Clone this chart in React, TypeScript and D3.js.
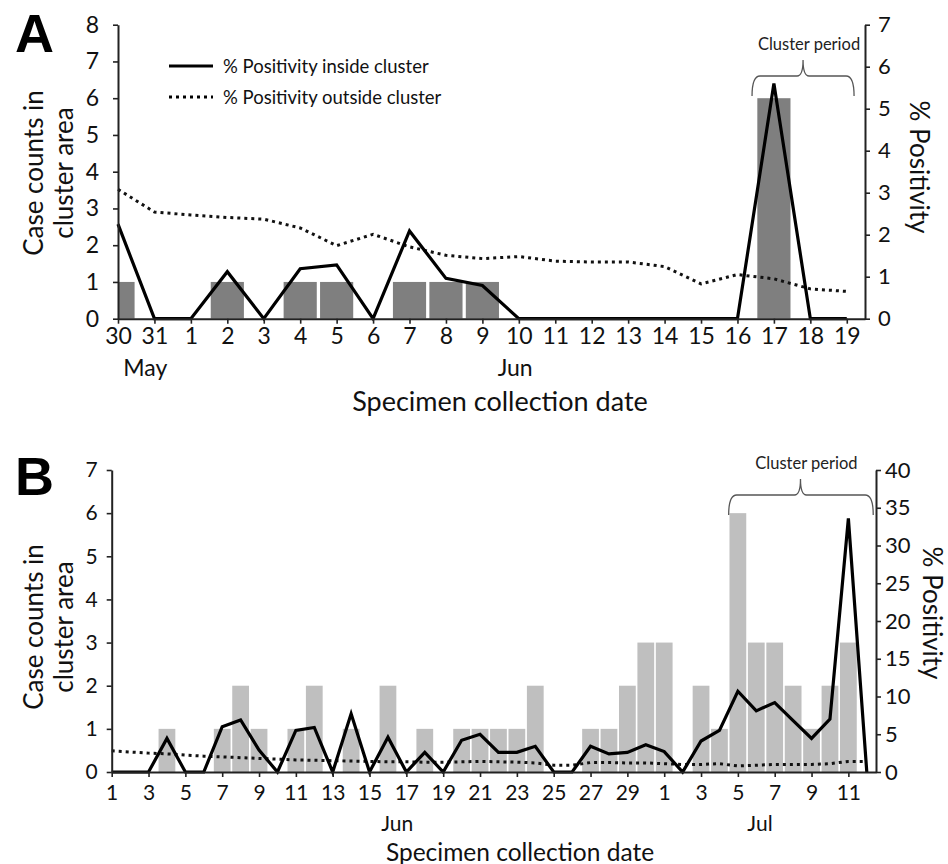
import React, { useEffect, useRef } from 'react';
import * as d3 from 'd3';

// ---- Panel A data (30 May – 19 Jun) ----
const daysA = ['30', '31', '1', '2', '3', '4', '5', '6', '7', '8', '9', '10', '11', '12', '13', '14', '15', '16', '17', '18', '19'];
const countsA = [1, 0, 0, 1, 0, 1, 1, 0, 1, 1, 1, 0, 0, 0, 0, 0, 0, 0, 6, 0, 0];
const insideA = [2.25, 0, 0, 1.12, 0, 1.19, 1.28, 0, 2.09, 0.96, 0.79, 0, 0, 0, 0, 0, 0, 0, 5.6, 0, 0];
const outsideA = [3.08, 2.54, 2.47, 2.41, 2.37, 2.16, 1.74, 2.01, 1.71, 1.51, 1.43, 1.48, 1.37, 1.35, 1.35, 1.24, 0.83, 1.05, 0.95, 0.71, 0.65];
const monthsA = ['May', 'Jun'];

// ---- Panel B data (1 Jun – 12 Jul) ----
const daysB = [
  '1', '2', '3', '4', '5', '6', '7', '8', '9', '10', '11', '12', '13', '14', '15', '16', '17', '18', '19', '20',
  '21', '22', '23', '24', '25', '26', '27', '28', '29', '30',
  '1', '2', '3', '4', '5', '6', '7', '8', '9', '10', '11', '12',
];
const countsB = [0, 0, 0, 1, 0, 0, 1, 2, 1, 0, 1, 2, 0, 1, 0, 2, 0, 1, 0, 1, 1, 1, 1, 2, 0, 0, 1, 1, 2, 3, 3, 0, 2, 1, 6, 3, 3, 2, 1, 2, 3, 0];
const insideB = [0, 0, 0, 4.45, 0, 0, 6.0, 6.9, 2.9, 0, 5.5, 5.9, 0, 7.7, 0, 4.6, 0, 2.6, 0, 4.2, 5.0, 2.6, 2.6, 3.4, 0, 0, 3.4, 2.4, 2.6, 3.6, 2.7, 0, 4.1, 5.5, 10.7, 8.1, 9.2, 6.8, 4.45, 7.0, 33.6, 0];
const outsideB = [2.8, 2.65, 2.5, 2.4, 2.25, 2.1, 2.0, 1.9, 1.8, 1.7, 1.6, 1.55, 1.5, 1.45, 1.4, 1.35, 1.35, 1.3, 1.3, 1.35, 1.4, 1.35, 1.3, 1.2, 0.9, 0.9, 1.25, 1.25, 1.2, 1.2, 1.1, 1.0, 1.0, 1.1, 0.8, 0.9, 1.0, 1.0, 1.0, 1.1, 1.4, 1.4];
const monthsB = ['Jun', 'Jul'];

const legendLabels = ['% Positivity inside cluster', '% Positivity outside cluster'];

const FONT = 'Lato, "Open Sans", sans-serif';

interface Panel {
  id: string;
  letter: string;
  days: string[];
  counts: number[];
  inside: number[];
  outside: number[];
  months: string[];
  monthAt: number[];
  tickEvery: number;
  countMax: number;
  pctMax: number;
  pctTicks: number;
  left: number; right: number; top: number; bottom: number;
  barColor: string;
  tickFont: number;
  leftPad: number; rightPad: number; bottomPad: number;
  letterY: number;
  yLabelY: number;
  rLabelX: number; rLabelY: number;
  titleX: number; titleY: number; titleFont: number; monthY: number;
  brace: [number, number, number];
  braceY: number;
  legend: boolean;
}

const bracePath = (x0: number, x1: number, xm: number, y: number) => {
  const h = 20, r = 8;
  return `M${x0},${y + h} Q${x0},${y} ${x0 + r},${y} L${xm - 6},${y} Q${xm},${y} ${xm},${y - 16} Q${xm},${y} ${xm + 6},${y} L${x1 - r},${y} Q${x1},${y} ${x1},${y + h}`;
};

function drawPanel(svg: d3.Selection<SVGSVGElement, unknown, null, undefined>, p: Panel) {
  const x = d3.scaleLinear().domain([0, p.days.length - 0.5]).range([p.left, p.right]);
  const yL = d3.scaleLinear().domain([0, p.countMax]).range([p.bottom, p.top]);
  const yR = d3.scaleLinear().domain([0, p.pctMax]).range([p.bottom, p.top]);
  const step = x(1) - x(0);
  const g = svg.append('g').attr('font-family', FONT);

  svg.append('defs').append('clipPath').attr('id', `${p.id}-clip`)
    .append('rect').attr('x', p.left).attr('y', p.top - 20).attr('width', p.right - p.left).attr('height', p.bottom - p.top + 20);

  // bars: case counts
  g.append('g').attr('clip-path', `url(#${p.id}-clip)`)
    .selectAll('rect')
    .data(p.counts.map((v, i) => ({ v, i })).filter(d => d.v > 0))
    .join('rect')
    .attr('x', d => x(d.i) - step * 0.455)
    .attr('width', step * 0.91)
    .attr('y', d => yL(d.v))
    .attr('height', d => yL(0) - yL(d.v))
    .attr('fill', p.barColor);

  const line = d3.line<number>().x((_, i) => x(i)).y(d => yR(d));

  g.append('path').datum(p.outside).attr('d', line)
    .attr('fill', 'none').attr('stroke', '#111').attr('stroke-width', 3)
    .attr('stroke-dasharray', '3 4');

  g.append('path').datum(p.inside).attr('d', line)
    .attr('fill', 'none').attr('stroke', '#000').attr('stroke-width', 3.2)
    .attr('stroke-linejoin', 'miter').attr('stroke-miterlimit', 6);

  // axes
  const styleAxis = (a: d3.Selection<SVGGElement, unknown, null, undefined>, size: number) => {
    a.attr('font-family', FONT).attr('font-size', size);
    a.select('.domain').attr('stroke', '#222').attr('stroke-width', 2);
    a.selectAll('.tick line').attr('stroke', '#222').attr('stroke-width', 1.6);
    a.selectAll('.tick text').attr('fill', '#111');
  };

  const xTicks = d3.range(0, p.days.length, p.tickEvery);
  g.append('g').attr('transform', `translate(0,${p.bottom})`)
    .call(d3.axisBottom(x).tickValues(xTicks).tickFormat(i => p.days[+i]).tickSize(5).tickSizeOuter(0).tickPadding(p.bottomPad))
    .call(a => styleAxis(a, p.tickFont));

  g.append('g').attr('transform', `translate(${p.left},0)`)
    .call(d3.axisLeft(yL).ticks(p.countMax).tickSize(5).tickSizeOuter(0).tickPadding(p.leftPad))
    .call(a => styleAxis(a, p.tickFont));

  g.append('g').attr('transform', `translate(${p.right},0)`)
    .call(d3.axisRight(yR).ticks(p.pctTicks).tickSize(5).tickSizeOuter(0).tickPadding(p.rightPad))
    .call(a => styleAxis(a, 22));

  // month labels
  g.selectAll('text.month').data(p.months).join('text').attr('class', 'month')
    .attr('x', (_, i) => x(p.monthAt[i])).attr('y', p.monthY)
    .attr('text-anchor', 'middle').attr('dominant-baseline', 'central')
    .attr('font-size', p.tickFont).attr('fill', '#111').text(d => d);

  // titles
  g.append('text').attr('x', p.titleX).attr('y', p.titleY)
    .attr('text-anchor', 'middle').attr('dominant-baseline', 'central')
    .attr('font-size', p.titleFont).attr('fill', '#111').text('Specimen collection date');

  ['Case counts in', 'cluster area'].forEach((t, i) => {
    g.append('text').attr('transform', `translate(${33 + i * 30},${p.yLabelY}) rotate(-90)`)
      .attr('text-anchor', 'middle').attr('dominant-baseline', 'central')
      .attr('font-size', 26).attr('fill', '#111').text(t);
  });

  g.append('text').attr('transform', `translate(${p.rLabelX},${p.rLabelY}) rotate(90)`)
    .attr('text-anchor', 'middle').attr('dominant-baseline', 'central')
    .attr('font-size', 26).attr('fill', '#111').text('% Positivity');

  g.append('text').attr('x', 15).attr('y', p.letterY)
    .attr('font-family', '"Liberation Sans", Arial, sans-serif').attr('font-weight', 700)
    .attr('font-size', 54).attr('fill', '#000').text(p.letter);

  // cluster period brace
  const [b0, b1, bm] = p.brace;
  g.append('path').attr('d', bracePath(x(b0), x(b1), x(bm), p.braceY))
    .attr('fill', 'none').attr('stroke', '#555').attr('stroke-width', 1.3);
  g.append('text').attr('x', x(bm) + 6).attr('y', p.braceY - 32)
    .attr('text-anchor', 'middle').attr('dominant-baseline', 'central')
    .attr('font-size', 16.5).attr('fill', '#222').text('Cluster period');

  if (p.legend) {
    const lg = g.append('g');
    legendLabels.forEach((t, i) => {
      const ly = 66 + i * 31;
      lg.append('line').attr('x1', 169).attr('x2', 213).attr('y1', ly).attr('y2', ly)
        .attr('stroke', '#000').attr('stroke-width', 3)
        .attr('stroke-dasharray', i === 0 ? null : '3 4');
      lg.append('text').attr('x', 223).attr('y', ly).attr('dominant-baseline', 'central')
        .attr('font-size', 18.5).attr('fill', '#111').text(t);
    });
  }
}

const panelA: Panel = {
  id: 'pa', letter: 'A', days: daysA, counts: countsA, inside: insideA, outside: outsideA,
  months: monthsA, monthAt: [0.75, 10.9], tickEvery: 1,
  countMax: 8, pctMax: 7, pctTicks: 7,
  left: 118, right: 865, top: 24.7, bottom: 318.7,
  barColor: '#7f7f7f', tickFont: 23, leftPad: 14, rightPad: 8, bottomPad: 4,
  letterY: 52, yLabelY: 173, rLabelX: 920, rLabelY: 167,
  titleX: 500, titleY: 400, titleFont: 27, monthY: 367,
  brace: [17.4, 20.2, 18.8], braceY: 76, legend: true,
};

const panelB: Panel = {
  id: 'pb', letter: 'B', days: daysB, counts: countsB, inside: insideB, outside: outsideB,
  months: monthsB, monthAt: [15.5, 35.2], tickEvery: 2,
  countMax: 7, pctMax: 40, pctTicks: 8,
  left: 111.7, right: 876, top: 470, bottom: 772,
  barColor: '#bfbfbf', tickFont: 21, leftPad: 9, rightPad: 4, bottomPad: 8,
  letterY: 495, yLabelY: 627, rLabelX: 933, rLabelY: 613,
  titleX: 520, titleY: 851, titleFont: 24.5, monthY: 822,
  brace: [33.5, 41.35, 37.4], braceY: 495, legend: false,
};

export default function App() {
  const svgRef = useRef<SVGSVGElement>(null);

  useEffect(() => {
    if (!svgRef.current) return;
    const svg = d3.select(svgRef.current);
    svg.selectAll('*').remove();
    drawPanel(svg, panelA);
    drawPanel(svg, panelB);
  }, []);

  return (
    <svg ref={svgRef} width={948} height={864}
      style={{ position: 'absolute', left: 0, top: 0, background: '#fff' }} />
  );
}
